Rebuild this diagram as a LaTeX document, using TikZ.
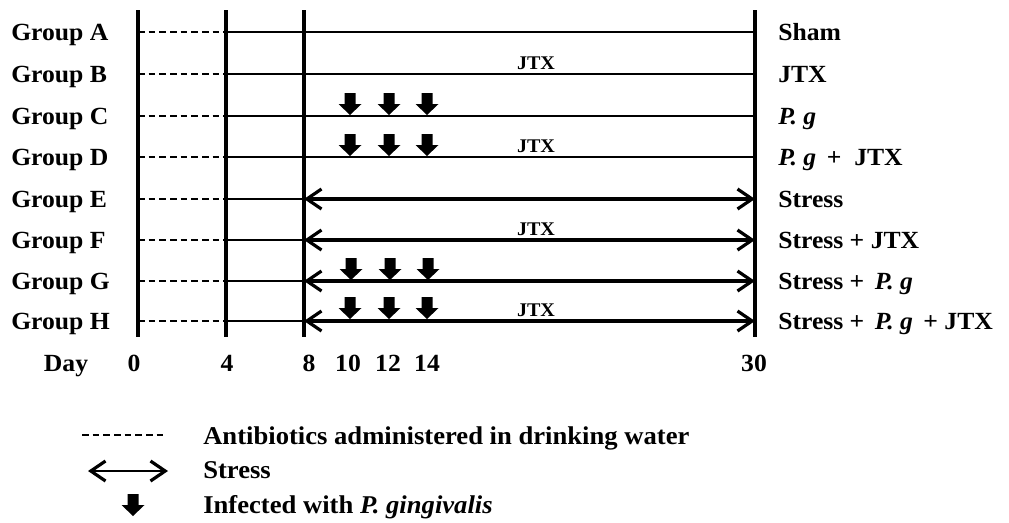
\documentclass[tikz,border=0pt]{standalone}
\usepackage{fontspec}
\setmainfont{Liberation Serif}[FakeStretch=1.04]
\usetikzlibrary{arrows.meta}
\begin{document}
\begin{tikzpicture}[x=0.75pt,y=-0.75pt,
  vline/.style={line width=2.3pt},
  thin/.style={line width=1.1pt},
  dashline/.style={line width=1.1pt,dash pattern=on 5pt off 3pt},
  stressarrow/.style={line width=2.8pt,{Straight Barb[length=11pt,width=15pt,line width=2.4pt]}-{Straight Barb[length=11pt,width=15pt,line width=2.4pt]}},
  lbl/.style={font=\fontsize{18.5}{20}\selectfont\bfseries,inner sep=0pt},
  leg/.style={font=\fontsize{19.2}{21}\selectfont\bfseries,inner sep=0pt,anchor=base west},
  jtx/.style={font=\fontsize{14.5}{16}\selectfont\bfseries,inner sep=0pt,anchor=base},
  infect/.pic={\fill (0,0) -- (11.5,-11) -- (5.5,-11) -- (5.5,-22) -- (-5.5,-22) -- (-5.5,-11) -- (-11.5,-11) -- cycle;}
]
\useasboundingbox (0,0) rectangle (1009,522);
% vertical day lines
\coordinate (d0t) at (138,10); \coordinate (d0b) at (138,337);
\coordinate (d4t) at (226,10); \coordinate (d4b) at (226,337);
\coordinate (d8t) at (304,10); \coordinate (d8b) at (304,337);
\coordinate (d30t) at (755,10); \coordinate (d30b) at (755,337);
\draw[vline] (d0t) -- (d0b);
\draw[vline] (d4t) -- (d4b);
\draw[vline] (d8t) -- (d8b);
\draw[vline] (d30t) -- (d30b);
% rows
\foreach \g/\y in {A/32,B/74,C/116,D/157,E/199,F/240,G/281,H/321}{
  \coordinate (s\g) at (138,\y);
  \coordinate (f\g) at (226,\y);
  \coordinate (e\g) at (304,\y);
  \coordinate (t\g) at (755,\y);
  \node[lbl,anchor=base west] (grp\g) at (11,\y+8) {Group \g};
  \draw[dashline] (s\g) -- (f\g);
}
\foreach \g in {A,B,C,D}{\draw[thin] (f\g) -- (t\g);}
\foreach \g in {E,F,G,H}{\draw[thin] (f\g) -- (e\g); \draw[stressarrow] (e\g) -- (t\g);}
% right labels
\node[lbl,anchor=base west] (rA) at (778,40) {Sham};
\node[lbl,anchor=base west] (rB) at (778,82) {JTX};
\node[lbl,anchor=base west] (rC) at (778,124) {\textit{P. g}};
\node[lbl,anchor=base west] (rD) at (778,165) {\textit{P. g}\, +\ \ JTX};
\node[lbl,anchor=base west] (rE) at (778,207) {Stress};
\node[lbl,anchor=base west] (rF) at (778,248) {Stress + JTX};
\node[lbl,anchor=base west] (rG) at (778,289) {Stress +\, \textit{P. g}};
\node[lbl,anchor=base west] (rH) at (778,329) {Stress +\, \textit{P. g}\, + JTX};
% JTX labels
\node[jtx] (jB) at (536,69.5) {JTX};
\node[jtx] (jD) at (536,152.5) {JTX};
\node[jtx] (jF) at (536,235.5) {JTX};
\node[jtx] (jH) at (536,316.5) {JTX};
% infection arrows
\foreach \x in {350,389,427}{
  \pic at (\x,115) {infect};
  \pic at (\x,156) {infect};
  \pic at (\x+1,280) {infect};
  \pic at (\x,319) {infect};
}
% day labels
\node[lbl,anchor=base] (day) at (66,371) {Day};
\node[lbl,anchor=base] (n0) at (134,371) {0};
\node[lbl,anchor=base] (n4) at (227,371) {4};
\node[lbl,anchor=base] (n8) at (309,371) {8};
\node[lbl,anchor=base] (n10) at (348,371) {10};
\node[lbl,anchor=base] (n12) at (388,371) {12};
\node[lbl,anchor=base] (n14) at (427,371) {14};
\node[lbl,anchor=base] (n30) at (754,371) {30};
% legend
\coordinate (l1a) at (82,435); \coordinate (l1b) at (163,435);
\draw[dashline] (l1a) -- (l1b);
\node[leg] (t1) at (203,444) {Antibiotics administered in drinking water};
\coordinate (l2a) at (88,471); \coordinate (l2b) at (168,471);
\draw[stressarrow,line width=2.2pt] (l2a) -- (l2b);
\node[leg] (t2) at (203,478) {Stress};
\pic at (133,516) {infect};
\node[leg] (t3) at (203,513) {Infected with \textit{P. gingivalis}};
\end{tikzpicture}
\end{document}
